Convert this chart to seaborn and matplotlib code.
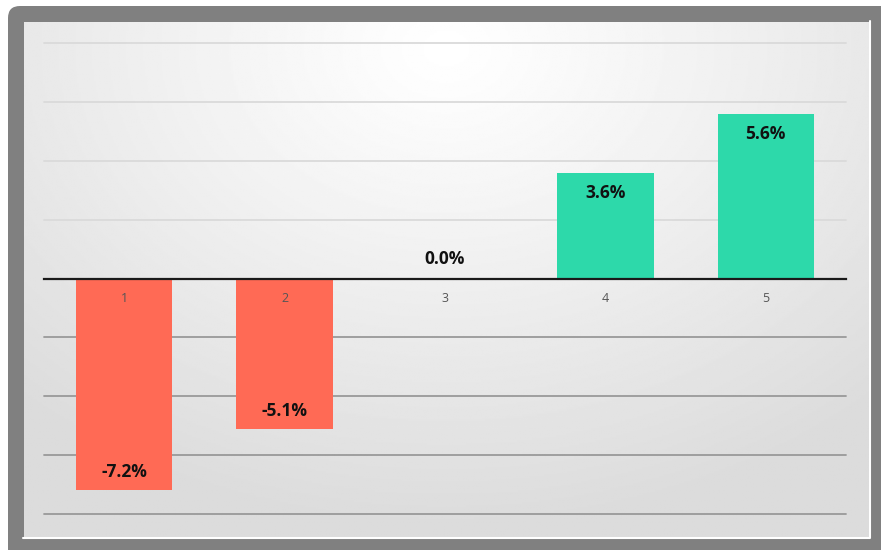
import numpy as np
import pandas as pd
import matplotlib.pyplot as plt
from matplotlib.patches import FancyBboxPatch
import seaborn as sns

# quintile returns
quintiles = ["1", "2", "3", "4", "5"]
returns = [-7.2, -5.1, 0.0, 3.6, 5.6]
grid_levels = [-8, -6, -4, -2, 2, 4, 6, 8]

RED = "#FF6A55"
TEAL = "#2DD9AA"

df = pd.DataFrame({"quintile": quintiles, "ret": returns})
df["side"] = np.where(df["ret"] < 0, "neg", "pos")

sns.set_style("white")
plt.rcParams["font.family"] = ["Open Sans", "DejaVu Sans"]

W, H = 881, 550
fig = plt.figure(figsize=(W / 100, H / 100), dpi=100)
fig.patch.set_facecolor("white")

# gray rounded frame, drawn on a full-figure axes at the back
fr = fig.add_axes([0, 0, 1, 1], zorder=0)
fr.set_xlim(0, W)
fr.set_ylim(H, 0)
fr.set_axis_off()
fr.add_patch(FancyBboxPatch((8, 6), W + 20, H + 20, boxstyle="round,pad=0,rounding_size=12",
                            fc="#808080", ec="none"))
# thin white rim along the bottom and right of the panel
fr.plot([23, 870, 870], [538, 538, 21], color="white", lw=1.5)

# soft radial background inside the frame
bg = fig.add_axes([24 / W, 13 / H, (869 - 24) / W, (537 - 22) / H], zorder=1)
yy, xx = np.mgrid[0:1:300j, 0:1:500j]
r = np.sqrt(((xx - 0.5) * 1.0) ** 2 + ((yy - 0.05) * 0.8) ** 2)
shade = 1.0 - 0.14 * np.clip(r / 0.75, 0, 1) ** 1.1
bg.imshow(shade, cmap="gray", vmin=0, vmax=1, aspect="auto", extent=(0, 1, 1, 0))
bg.set_axis_off()

ax = fig.add_axes([44 / W, 36 / H, 802 / W, 471 / H], zorder=2)
ax.patch.set_alpha(0)

for g in grid_levels:
    ax.axhline(g, color="#dadada" if g > 0 else "#999999", lw=1.3, zorder=0, clip_on=False)

sns.barplot(data=df, x="quintile", y="ret", hue="side", palette={"neg": RED, "pos": TEAL},
            width=0.6, dodge=False, saturation=1, legend=False, ax=ax, zorder=1,
            linewidth=0, edgecolor="none")

ax.set_ylim(-8, 8)
ax.set_xlim(-0.5, 4.5)
ax.set_yticks([])
ax.set_xlabel("")
ax.set_ylabel("")
ax.set_axisbelow(False)
for s in ["top", "left", "right"]:
    ax.spines[s].set_visible(False)
ax.spines["bottom"].set_position(("data", 0))
ax.spines["bottom"].set_color("#1a1a1a")
ax.spines["bottom"].set_linewidth(1.6)
ax.tick_params(axis="x", length=0, pad=10, labelsize=9, labelcolor="#555555")

for i, v in enumerate(returns):
    if v > 0:
        off = -20
    elif v < 0:
        off = 18
    else:
        off = 19
    ax.annotate(f"{v:.1f}%", (i, v), xytext=(0, off), textcoords="offset pixels",
                ha="center", va="center", fontsize=12.5, fontweight="bold", color="#111111")

fig.savefig("out.png", dpi=100)
